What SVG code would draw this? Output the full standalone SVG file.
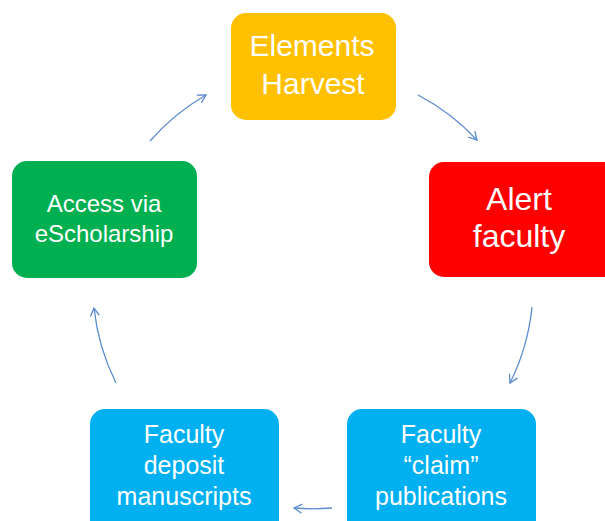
<svg xmlns="http://www.w3.org/2000/svg" width="605" height="521" viewBox="0 0 605 521">
  <style>
    .lbl { font-family: "Liberation Sans", Arial, sans-serif; fill: #ffffff; text-anchor: middle; }
    .conn { fill: none; stroke: #5B8BD0; stroke-width: 1.3; marker-end: url(#arr); }
  </style>
  <defs>
    <marker id="arr" markerUnits="userSpaceOnUse" markerWidth="12" markerHeight="12" viewBox="0 0 12 12" refX="10" refY="6" orient="auto">
      <path d="M2,1.5 L10,6 L2,10.5" fill="none" stroke="#5B8BD0" stroke-width="1.3"/>
    </marker>
  </defs>
  <rect x="0" y="0" width="605" height="521" fill="#ffffff"/>

  <g id="elements-harvest">
    <rect x="231" y="13" width="165" height="107" rx="15" ry="15" fill="#FFC000"/>
    <text class="lbl" x="312" y="56" font-size="30">Elements</text>
    <text class="lbl" x="313" y="94" font-size="30">Harvest</text>
  </g>

  <g id="alert-faculty">
    <rect x="429" y="162" width="190" height="115" rx="15" ry="15" fill="#FF0000"/>
    <text class="lbl" x="519" y="210" font-size="32">Alert</text>
    <text class="lbl" x="519" y="247" font-size="32">faculty</text>
  </g>

  <g id="access-escholarship">
    <rect x="12" y="161" width="185" height="117" rx="15" ry="15" fill="#00B050"/>
    <text class="lbl" x="104" y="212" font-size="24">Access via</text>
    <text class="lbl" x="104" y="242" font-size="24">eScholarship</text>
  </g>

  <g id="faculty-deposit">
    <rect x="90" y="409" width="189" height="130" rx="15" ry="15" fill="#00B0F0"/>
    <text class="lbl" x="184" y="443" font-size="25">Faculty</text>
    <text class="lbl" x="184" y="474" font-size="25">deposit</text>
    <text class="lbl" x="184" y="505" font-size="25">manuscripts</text>
  </g>

  <g id="faculty-claim">
    <rect x="347" y="409" width="189" height="130" rx="15" ry="15" fill="#00B0F0"/>
    <text class="lbl" x="441" y="443" font-size="25">Faculty</text>
    <text class="lbl" x="441" y="474" font-size="25">“claim”</text>
    <text class="lbl" x="441" y="505" font-size="25">publications</text>
  </g>

  <g id="connectors">
    <path class="conn" d="M150,141 A220,220 0 0 1 206,95"/>
    <path class="conn" d="M418,95 A220,220 0 0 1 477,140"/>
    <path class="conn" d="M532,307 A220,220 0 0 1 510,383"/>
    <path class="conn" d="M332,508 A220,220 0 0 1 294,508"/>
    <path class="conn" d="M116,383 A220,220 0 0 1 94,308"/>
  </g>
</svg>
